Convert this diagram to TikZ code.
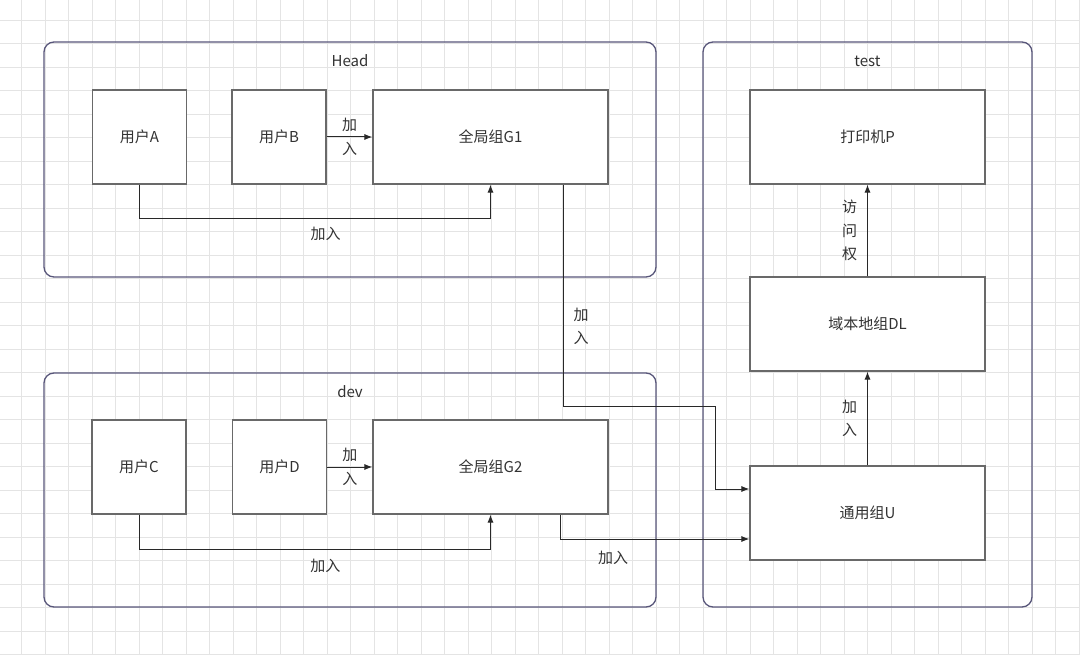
\documentclass[tikz,border=0pt]{standalone}
\usepackage{fontspec}
\setmainfont{Noto Sans CJK SC}
\usepackage{xcolor}
\usepackage{tikz}
\usetikzlibrary{arrows.meta, calc}
\definecolor{framecol}{RGB}{88,86,122}
\definecolor{boxcol}{RGB}{105,105,105}
\definecolor{linecol}{RGB}{40,40,40}
\definecolor{txtcol}{RGB}{50,50,50}
\definecolor{gridcol}{RGB}{228,228,228}

\begin{document}
\begin{tikzpicture}[x=1pt, y=-1pt]
			\tikzset{arrow/.style={-{Latex[length=8pt, width=6pt]}, linecol, line width=1pt}}
			\tikzset{box/.style={draw=boxcol, line width=1.1pt, fill=white, minimum width=94pt, minimum height=94pt, inner sep=0pt, text=txtcol, font=\fontsize{15}{17}\selectfont}}
			\tikzset{widebox/.style={box, minimum width=235pt}}
			\tikzset{group/.style={draw=framecol, line width=1.3pt, rounded corners=10pt, inner sep=0pt}}
			\tikzset{lbl/.style={text=txtcol, font=\fontsize{15}{23.5}\selectfont, align=center, inner sep=1pt}}

			\fill[white] (0,0) rectangle (1080,655);
			\useasboundingbox (0,0) rectangle (1080,655);
			\foreach \i in {0,...,45}
				\draw[gridcol, line width=0.8pt] (21.7+\i*23.5,0) -- (21.7+\i*23.5,655);
			\foreach \j in {0,...,27}
				\draw[gridcol, line width=0.8pt] (0,20+\j*23.5) -- (1080,20+\j*23.5);

			% groups
			\node (head) [group, minimum width=612pt, minimum height=235pt] at (350,159.5) {};
			\node (dev) [group, minimum width=612pt, minimum height=234pt] at (350,490) {};
			\node (test) [group, minimum width=329pt, minimum height=565pt] at (867.5,324.5) {};
			\node (headtitle) [lbl] at (350,61) {Head};
			\node (devtitle) [lbl] at (350,392) {dev};
			\node (testtitle) [lbl] at (867.5,61) {test};

			\node (ua) [box] at (139.5,137) {用户A};
			\node (ub) [box] at (279,137) {用户B};
			\node (g1) [widebox] at (490.5,137) {全局组G1};
			\node (uc) [box] at (139,467) {用户C};
			\node (ud) [box] at (279.5,467) {用户D};
			\node (g2) [widebox] at (490.5,467) {全局组G2};
			\node (pp) [widebox] at (867.5,137) {打印机P};
			\node (dl) [widebox] at (867.5,324) {域本地组DL};
			\node (uu) [widebox] at (867.5,513) {通用组U};

			\coordinate (bend) at (715,406);

			\draw[arrow] (ub) -- node[lbl]{加\\入} (g1);
			\draw[arrow] (ud) -- node[lbl]{加\\入} (g2);
			\draw[arrow] (ua.south) |- node[lbl, pos=0.765, below=7pt]{加入} ($(g1.south)+(0,34)$) -- (g1.south);
			\draw[arrow] (uc.south) |- node[lbl, pos=0.765, below=8pt]{加入} ($(g2.south)+(0,35)$) -- (g2.south);
			\draw[arrow] ([xshift=72.5pt]g1.south) |- node[lbl, pos=0.32, right=9pt]{加\\入} (bend) |- ([yshift=24pt]uu.west);
			\draw[arrow] ([xshift=69.5pt]g2.south) |- node[lbl, pos=0.64, below=11pt]{加入} ([yshift=-26pt]uu.west);
			\draw[arrow] (uu) -- node[lbl, left=9pt]{加\\入} (dl);
			\draw[arrow] (dl) -- node[lbl, left=9pt]{访\\问\\权} (pp);

\end{tikzpicture}
\end{document}
